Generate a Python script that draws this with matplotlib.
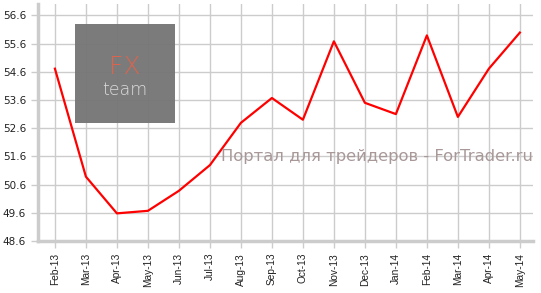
import numpy as np
import matplotlib.pyplot as plt
from matplotlib.patches import Rectangle

months = ["Feb-13", "Mar-13", "Apr-13", "May-13", "Jun-13", "Jul-13", "Aug-13",
          "Sep-13", "Oct-13", "Nov-13", "Dec-13", "Jan-14", "Feb-14", "Mar-14",
          "Apr-14", "May-14"]
values = [54.71, 50.88, 49.58, 49.67, 50.38, 51.29, 52.79, 53.67, 52.90,
          55.68, 53.50, 53.10, 55.89, 53.00, 54.71, 55.99]
yticks = [48.6, 49.6, 50.6, 51.6, 52.6, 53.6, 54.6, 55.6, 56.6]

grid_color = "#cccccc"

fig = plt.figure(figsize=(5.41, 2.93), dpi=100)
ax = fig.add_axes([0.070, 0.1775, 0.915, 0.8085])

x = np.arange(len(months))
ax.plot(x, values, color="#ff0000", lw=1.6, zorder=5)

ax.set_xlim(-0.55, 15.42)
ax.set_ylim(48.6, 57.0)
ax.set_xticks(x)
ax.set_xticklabels(months, rotation=90, fontsize=7.3, family="Liberation Sans")
ax.set_yticks(yticks)
ax.set_yticklabels(["%.1f" % v for v in yticks], fontsize=7.5, family="DejaVu Sans")
ax.grid(True, color=grid_color, lw=1, zorder=1)
ax.set_axisbelow(True)
ax.tick_params(axis="both", colors=grid_color, length=5, width=1, labelcolor="#222222")

for side in ["top", "right"]:
    ax.spines[side].set_visible(False)
for side in ["left", "bottom"]:
    ax.spines[side].set_color(grid_color)
    ax.spines[side].set_linewidth(2.5)

# logo box
fig.patches.append(Rectangle((75 / 541, 1 - 123 / 293), 100 / 541, 99 / 293,
                             transform=fig.transFigure, facecolor="#777777",
                             edgecolor="none", zorder=0.5, alpha=0.97))
ax.patch.set_alpha(0)
fig.text(125 / 541, 1 - 74 / 293, "FX", color="#d9654f", fontsize=18,
         fontweight="light", ha="center", va="baseline", family="DejaVu Sans")
fig.text(125 / 541, 1 - 95 / 293, "team", color="#dddddd", fontsize=12.5,
         fontweight="light", ha="center", va="baseline", family="DejaVu Sans")

ax.text(533 / 541, 1 - 157 / 293, "Портал для трейдеров - ForTrader.ru",
        transform=fig.transFigure, color="#a89898", fontsize=11.8,
        ha="right", va="center", zorder=6, family="DejaVu Sans")

fig.savefig("out.png", dpi=100)
